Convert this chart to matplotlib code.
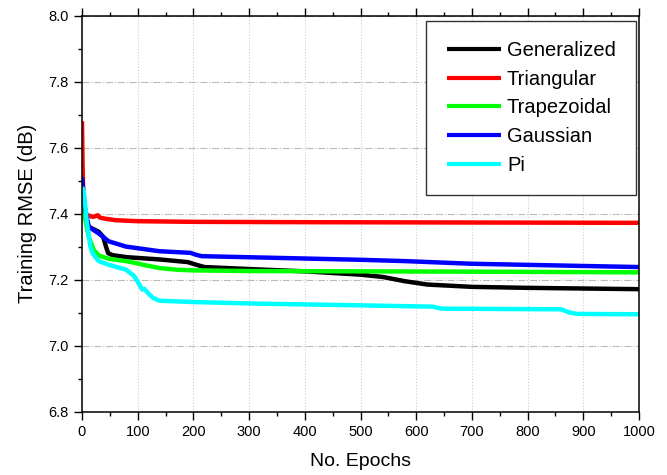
import numpy as np
import matplotlib
matplotlib.use('Agg')
import matplotlib.pyplot as plt
from matplotlib.ticker import MultipleLocator

plt.rcParams['font.family'] = ['Liberation Sans', 'DejaVu Sans']

# data
gen_ep = [0, 5, 12, 30, 38, 43, 47, 55, 80, 140, 190, 205, 220, 300, 400, 500, 540, 580, 620, 700, 800, 1000]
gen_val = [7.50, 7.40, 7.36, 7.345, 7.33, 7.30, 7.28, 7.274, 7.268, 7.261, 7.253, 7.245, 7.238, 7.232,
           7.225, 7.215, 7.208, 7.195, 7.185, 7.178, 7.175, 7.171]

tri_ep = [0, 1, 3, 10, 20, 28, 32, 40, 60, 100, 200, 400, 700, 1000]
tri_val = [7.68, 7.55, 7.40, 7.395, 7.39, 7.395, 7.388, 7.385, 7.38, 7.377, 7.375, 7.374, 7.373, 7.372]

trap_ep = [0, 5, 12, 21, 30, 48, 79, 97, 109, 139, 169, 200, 300, 500, 700, 1000]
trap_val = [7.48, 7.39, 7.33, 7.29, 7.273, 7.263, 7.256, 7.25, 7.245, 7.235, 7.23, 7.228, 7.226,
            7.225, 7.224, 7.222]

gau_ep = [0, 5, 12, 30, 48, 79, 139, 195, 205, 215, 320, 500, 580, 700, 850, 1000]
gau_val = [7.51, 7.42, 7.36, 7.34, 7.316, 7.30, 7.286, 7.281, 7.275, 7.271, 7.267, 7.26, 7.256,
           7.248, 7.243, 7.238]

pi_ep = [0, 3, 9, 15, 19, 30, 48, 79, 94, 103, 108, 112, 118, 127, 139, 200, 320, 500, 630, 645,
         860, 875, 890, 1000]
pi_val = [7.48, 7.47, 7.37, 7.30, 7.28, 7.256, 7.245, 7.23, 7.21, 7.185, 7.17, 7.172, 7.16, 7.145,
          7.136, 7.132, 7.127, 7.122, 7.118, 7.112, 7.11, 7.10, 7.096, 7.095]

series = [
    ('Generalized', gen_ep, gen_val, 'black'),
    ('Triangular', tri_ep, tri_val, '#ff0000'),
    ('Trapezoidal', trap_ep, trap_val, '#00ff00'),
    ('Gaussian', gau_ep, gau_val, '#0000ff'),
    ('Pi', pi_ep, pi_val, '#00ffff'),
]

fig = plt.figure(figsize=(6.67, 4.75), dpi=100)
ax = fig.add_axes([82 / 667, 1 - 411.6 / 475, 557 / 667, 396 / 475])

for name, ep, val, col in series:
    ax.plot(ep, val, color=col, lw=3.2, label=name, solid_capstyle='butt')

ax.set_xlim(0, 1000)
ax.set_ylim(6.8, 8.0)
ax.xaxis.set_major_locator(MultipleLocator(100))
ax.xaxis.set_minor_locator(MultipleLocator(50))
ax.yaxis.set_major_locator(MultipleLocator(0.2))
ax.yaxis.set_minor_locator(MultipleLocator(0.1))

ax.grid(axis='x', which='major', color='#cccccc', ls=':', lw=0.8)
ax.grid(axis='y', which='major', color='#bbbbbb', ls='-.', lw=0.8)
ax.set_axisbelow(True)

ax.tick_params(which='both', direction='out', top=True, right=False, width=1.0)
ax.tick_params(which='major', length=6, labelsize=10.5)
ax.tick_params(which='minor', length=3)
for s in ax.spines.values():
    s.set_linewidth(1.1)

ax.set_xlabel('No. Epochs', fontsize=14, labelpad=10)
ax.set_ylabel('Training RMSE (dB)', fontsize=14.5, labelpad=8)

leg = ax.legend(loc='upper right', bbox_to_anchor=(0.9946, 0.987), fontsize=14.5,
                fancybox=False, edgecolor='#333333', framealpha=1, borderpad=1.0,
                handlelength=2.7, handletextpad=0.3, labelspacing=0.48, borderaxespad=0)
leg.get_frame().set_linewidth(1.0)
for ln in leg.get_lines():
    ln.set_linewidth(3.0)

fig.savefig('out.png', dpi=100)
